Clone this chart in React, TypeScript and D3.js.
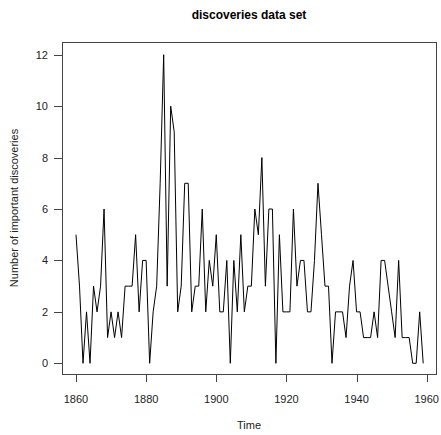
import React from "react";
import * as d3 from "d3";

const startYear = 1860;
const discoveries = [
  5, 3, 0, 2, 0, 3, 2, 3, 6, 1,
  2, 1, 2, 1, 3, 3, 3, 5, 2, 4,
  4, 0, 2, 3, 7, 12, 3, 10, 9, 2,
  3, 7, 7, 2, 3, 3, 6, 2, 4, 3,
  5, 2, 2, 4, 0, 4, 2, 5, 2, 3,
  3, 6, 5, 8, 3, 6, 6, 0, 5, 2,
  2, 2, 6, 3, 4, 4, 2, 2, 4, 7,
  5, 3, 3, 0, 2, 2, 2, 1, 3, 4,
  2, 2, 1, 1, 1, 2, 1, 4, 4, 3,
  2, 1, 4, 1, 1, 1, 0, 0, 2, 0,
];
const xTicks = [1860, 1880, 1900, 1920, 1940, 1960];
const yTicks = [0, 2, 4, 6, 8, 10, 12];
const title = "discoveries data set";
const xLabel = "Time";
const yLabel = "Number of important discoveries";

export default function App() {
  const W = 441, H = 435;
  const box = { l: 62, r: 436, t: 42, b: 374 };
  const x = d3.scaleLinear().domain([1860, 1960]).range([76, 426.7]);
  const y = d3.scaleLinear().domain([0, 12]).range([363.3, 54.7]);
  const pts = discoveries.map((v, i) => [startYear + i, v] as [number, number]);
  const line = d3.line<[number, number]>().x(d => x(d[0])).y(d => y(d[1]));
  const font = "'Liberation Sans', Arial, Helvetica, sans-serif";
  return (
    <svg width={W} height={H} style={{ position: "absolute", left: 0, top: 0, background: "#fff" }}
      fontFamily={font}>
      <text x={(box.l + box.r) / 2} y={19} textAnchor="middle" fontSize={12} fontWeight="bold" fill="#000">{title}</text>
      <rect x={box.l + 0.5} y={box.t + 0.5} width={box.r - box.l} height={box.b - box.t}
        fill="none" stroke="#444" strokeWidth={1} />
      <path d={line(pts) || ""} fill="none" stroke="#000" strokeWidth={1} />
      {xTicks.map(t => (
        <g key={"x" + t}>
          <line x1={Math.round(x(t)) + 0.5} x2={Math.round(x(t)) + 0.5} y1={box.b + 0.5} y2={box.b + 8} stroke="#444" />
          <text x={x(t)} y={403} textAnchor="middle" fontSize={11} fill="#222">{t}</text>
        </g>
      ))}
      {yTicks.map(t => (
        <g key={"y" + t}>
          <line x1={box.l - 8} x2={box.l + 0.5} y1={Math.round(y(t)) + 0.5} y2={Math.round(y(t)) + 0.5} stroke="#444" />
          <text x={48} y={y(t) + 4} textAnchor="end" fontSize={11} fill="#222">{t}</text>
        </g>
      ))}
      <text x={(box.l + box.r) / 2} y={429} textAnchor="middle" fontSize={11} fill="#222">{xLabel}</text>
      <text transform={`translate(18, ${(box.t + box.b) / 2}) rotate(-90)`} textAnchor="middle" fontSize={11} fill="#222">{yLabel}</text>
    </svg>
  );
}
